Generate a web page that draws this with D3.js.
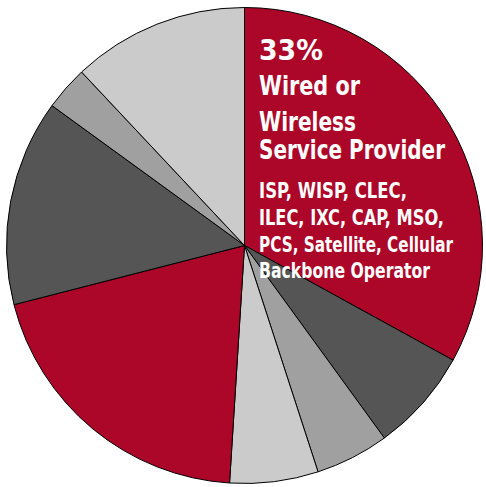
<!DOCTYPE html>
<html>
<head>
<meta charset="UTF-8" />
<script src="https://cdn.jsdelivr.net/npm/d3@7"></script>
<style>
  body { margin: 0; background: #fff; }
  svg text { font-family: "DejaVu Sans Condensed", "DejaVu Sans", sans-serif; font-weight: bold; fill: #fff; }
</style>
</head>
<body>
<div id="app"></div>
<script>
// data
const segments = ["Wired or Wireless Service Provider", "B", "C", "D", "E", "F", "G", "H"];
const shares = [33, 7, 5, 6, 20, 14, 3, 12];
const shades = ["#ac0629", "#555555", "#a0a0a0", "#cbcbcb", "#ac0629", "#555555", "#a0a0a0", "#cbcbcb"];
const headLines = ["33%", "Wired or", "Wireless", "Service Provider"];
const detailLines = ["ISP, WISP, CLEC,", "ILEC, IXC, CAP, MSO,", "PCS, Satellite, Cellular", "Backbone Operator"];

const w = 486, h = 487;
const cx = 244.5, cy = 245.5, r = 238;

const svg = d3.select("#app").append("svg")
  .attr("width", w)
  .attr("height", h);

const pie = d3.pie().sort(null).value(d => d);
const arc = d3.arc().innerRadius(0).outerRadius(r);

const g = svg.append("g").attr("transform", `translate(${cx},${cy})`);

g.selectAll("path")
  .data(pie(shares))
  .enter()
  .append("path")
  .attr("d", arc)
  .attr("fill", (d, i) => shades[i])
  .attr("stroke", "#000")
  .attr("stroke-width", 1)
  .attr("stroke-linejoin", "round");

// labels (layout)
const headY = [60, 95, 131, 159];
const headSize = [29, 27, 27, 27];
const headW = [64, 101, 97, 186];

svg.selectAll("text.head")
  .data(headLines)
  .enter()
  .append("text")
  .attr("class", "head")
  .attr("x", 259)
  .attr("y", (d, i) => headY[i])
  .attr("textLength", (d, i) => headW[i])
  .attr("lengthAdjust", "spacingAndGlyphs")
  .style("font-size", (d, i) => headSize[i] + "px")
  .text(d => d);

const detY = [198, 224.5, 251.5, 278];
const detW = [148, 185, 194, 171];
svg.selectAll("text.det")
  .data(detailLines)
  .enter()
  .append("text")
  .attr("class", "det")
  .attr("x", 259)
  .attr("y", (d, i) => detY[i])
  .attr("textLength", (d, i) => detW[i])
  .attr("lengthAdjust", "spacingAndGlyphs")
  .style("font-size", "20.5px")
  .text(d => d);
</script>
</body>
</html>
